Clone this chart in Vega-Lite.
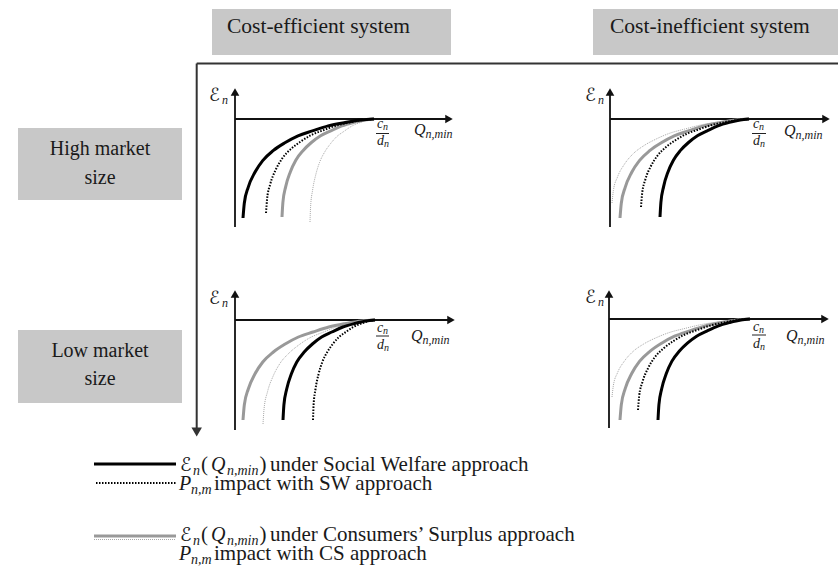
{
  "$schema": "https://vega.github.io/schema/vega-lite/v6.json",
  "width": 838,
  "height": 575,
  "autosize": {"type": "none"},
  "padding": 0,
  "background": "white",
  "config": {"view": {"stroke": null}},
  "datasets": {
    "boxes": [
      {"x": 212, "y": 9, "x2": 451, "y2": 55},
      {"x": 593, "y": 9, "x2": 838, "y2": 55},
      {"x": 18, "y": 128, "x2": 182, "y2": 200},
      {"x": 18, "y": 330, "x2": 182, "y2": 403}
    ],
    "rules": [
      {"k": "big", "x": 196.7, "y": 63.5, "x2": 838, "y2": 63.5},
      {"k": "big", "x": 196.7, "y": 63.5, "x2": 196.7, "y2": 430},
      {"k": "ax", "x": 235, "y": 92, "x2": 235, "y2": 227},
      {"k": "ax", "x": 235, "y": 119, "x2": 448, "y2": 119},
      {"k": "ax", "x": 610, "y": 92, "x2": 610, "y2": 227},
      {"k": "ax", "x": 610, "y": 119, "x2": 825, "y2": 119},
      {"k": "ax", "x": 235, "y": 294, "x2": 235, "y2": 430},
      {"k": "ax", "x": 235, "y": 320, "x2": 450, "y2": 320},
      {"k": "ax", "x": 609, "y": 294, "x2": 609, "y2": 428},
      {"k": "ax", "x": 609, "y": 319, "x2": 824, "y2": 319},
      {"k": "fr", "x": 376, "y": 133.5, "x2": 389, "y2": 133.5},
      {"k": "fr", "x": 752, "y": 133.5, "x2": 766, "y2": 133.5},
      {"k": "fr", "x": 376, "y": 336, "x2": 389, "y2": 336},
      {"k": "fr", "x": 752, "y": 335, "x2": 766, "y2": 335}
    ],
    "heads": [
      {"k": "ax", "sh": "triangle-up", "x": 235, "y": 92},
      {"k": "ax", "sh": "triangle-right", "x": 449, "y": 119},
      {"k": "ax", "sh": "triangle-up", "x": 610, "y": 92},
      {"k": "ax", "sh": "triangle-right", "x": 826, "y": 119},
      {"k": "ax", "sh": "triangle-up", "x": 235, "y": 294},
      {"k": "ax", "sh": "triangle-right", "x": 451, "y": 320},
      {"k": "ax", "sh": "triangle-up", "x": 609, "y": 294},
      {"k": "ax", "sh": "triangle-right", "x": 825, "y": 319},
      {"k": "big", "sh": "triangle-down", "x": 196.7, "y": 432}
    ],
    "curves": [
      {"c": "TLA", "s": "SW", "x": 243, "y": 218},
      {"c": "TLA", "s": "SW", "x": 244.3, "y": 203.2},
      {"c": "TLA", "s": "SW", "x": 248.2, "y": 187.3},
      {"c": "TLA", "s": "SW", "x": 254.8, "y": 172.5},
      {"c": "TLA", "s": "SW", "x": 262.7, "y": 160.6},
      {"c": "TLA", "s": "SW", "x": 273.1, "y": 150.7},
      {"c": "TLA", "s": "SW", "x": 284.9, "y": 142.8},
      {"c": "TLA", "s": "SW", "x": 298, "y": 135.8},
      {"c": "TLA", "s": "SW", "x": 312.4, "y": 130.9},
      {"c": "TLA", "s": "SW", "x": 328.2, "y": 125.9},
      {"c": "TLA", "s": "SW", "x": 345.2, "y": 122.5},
      {"c": "TLA", "s": "SW", "x": 360.9, "y": 120},
      {"c": "TLA", "s": "SW", "x": 374, "y": 119},
      {"c": "TLB", "s": "SWP", "x": 266, "y": 213},
      {"c": "TLB", "s": "SWP", "x": 267.1, "y": 198.9},
      {"c": "TLB", "s": "SWP", "x": 270.3, "y": 183.9},
      {"c": "TLB", "s": "SWP", "x": 275.7, "y": 169.8},
      {"c": "TLB", "s": "SWP", "x": 282.2, "y": 158.5},
      {"c": "TLB", "s": "SWP", "x": 290.8, "y": 149.1},
      {"c": "TLB", "s": "SWP", "x": 300.6, "y": 141.6},
      {"c": "TLB", "s": "SWP", "x": 311.4, "y": 135},
      {"c": "TLB", "s": "SWP", "x": 323.2, "y": 130.3},
      {"c": "TLB", "s": "SWP", "x": 336.2, "y": 125.6},
      {"c": "TLB", "s": "SWP", "x": 350.2, "y": 122.3},
      {"c": "TLB", "s": "SWP", "x": 363.2, "y": 119.9},
      {"c": "TLB", "s": "SWP", "x": 374, "y": 119},
      {"c": "TLC", "s": "CS", "x": 282, "y": 217},
      {"c": "TLC", "s": "CS", "x": 282.9, "y": 202.3},
      {"c": "TLC", "s": "CS", "x": 285.7, "y": 186.6},
      {"c": "TLC", "s": "CS", "x": 290.3, "y": 171.9},
      {"c": "TLC", "s": "CS", "x": 295.8, "y": 160.2},
      {"c": "TLC", "s": "CS", "x": 303.2, "y": 150.4},
      {"c": "TLC", "s": "CS", "x": 311.4, "y": 142.5},
      {"c": "TLC", "s": "CS", "x": 320.6, "y": 135.7},
      {"c": "TLC", "s": "CS", "x": 330.8, "y": 130.8},
      {"c": "TLC", "s": "CS", "x": 341.8, "y": 125.9},
      {"c": "TLC", "s": "CS", "x": 353.8, "y": 122.4},
      {"c": "TLC", "s": "CS", "x": 364.8, "y": 120},
      {"c": "TLC", "s": "CS", "x": 374, "y": 119},
      {"c": "TLD", "s": "CSP", "x": 310, "y": 222},
      {"c": "TLD", "s": "CSP", "x": 310.6, "y": 206.6},
      {"c": "TLD", "s": "CSP", "x": 312.6, "y": 190.1},
      {"c": "TLD", "s": "CSP", "x": 315.8, "y": 174.6},
      {"c": "TLD", "s": "CSP", "x": 319.6, "y": 162.3},
      {"c": "TLD", "s": "CSP", "x": 324.7, "y": 152},
      {"c": "TLD", "s": "CSP", "x": 330.5, "y": 143.7},
      {"c": "TLD", "s": "CSP", "x": 336.9, "y": 136.5},
      {"c": "TLD", "s": "CSP", "x": 343.9, "y": 131.4},
      {"c": "TLD", "s": "CSP", "x": 351.6, "y": 126.2},
      {"c": "TLD", "s": "CSP", "x": 359.9, "y": 122.6},
      {"c": "TLD", "s": "CSP", "x": 367.6, "y": 120},
      {"c": "TLD", "s": "CSP", "x": 374, "y": 119},
      {"c": "TRA", "s": "SW", "x": 660, "y": 217},
      {"c": "TRA", "s": "SW", "x": 660.9, "y": 202.3},
      {"c": "TRA", "s": "SW", "x": 663.6, "y": 186.6},
      {"c": "TRA", "s": "SW", "x": 668, "y": 171.9},
      {"c": "TRA", "s": "SW", "x": 673.4, "y": 160.2},
      {"c": "TRA", "s": "SW", "x": 680.5, "y": 150.4},
      {"c": "TRA", "s": "SW", "x": 688.5, "y": 142.5},
      {"c": "TRA", "s": "SW", "x": 697.4, "y": 135.7},
      {"c": "TRA", "s": "SW", "x": 707.2, "y": 130.8},
      {"c": "TRA", "s": "SW", "x": 717.9, "y": 125.9},
      {"c": "TRA", "s": "SW", "x": 729.4, "y": 122.4},
      {"c": "TRA", "s": "SW", "x": 740.1, "y": 120},
      {"c": "TRA", "s": "SW", "x": 749, "y": 119},
      {"c": "TRB", "s": "SWP", "x": 641, "y": 207},
      {"c": "TRB", "s": "SWP", "x": 642.1, "y": 193.8},
      {"c": "TRB", "s": "SWP", "x": 645.3, "y": 179.7},
      {"c": "TRB", "s": "SWP", "x": 650.7, "y": 166.5},
      {"c": "TRB", "s": "SWP", "x": 657.2, "y": 156},
      {"c": "TRB", "s": "SWP", "x": 665.8, "y": 147.2},
      {"c": "TRB", "s": "SWP", "x": 675.6, "y": 140.1},
      {"c": "TRB", "s": "SWP", "x": 686.4, "y": 134},
      {"c": "TRB", "s": "SWP", "x": 698.2, "y": 129.6},
      {"c": "TRB", "s": "SWP", "x": 711.2, "y": 125.2},
      {"c": "TRB", "s": "SWP", "x": 725.2, "y": 122.1},
      {"c": "TRB", "s": "SWP", "x": 738.2, "y": 119.9},
      {"c": "TRB", "s": "SWP", "x": 749, "y": 119},
      {"c": "TRC", "s": "CS", "x": 620, "y": 218},
      {"c": "TRC", "s": "CS", "x": 621.3, "y": 203.2},
      {"c": "TRC", "s": "CS", "x": 625.2, "y": 187.3},
      {"c": "TRC", "s": "CS", "x": 631.6, "y": 172.5},
      {"c": "TRC", "s": "CS", "x": 639.4, "y": 160.6},
      {"c": "TRC", "s": "CS", "x": 649.7, "y": 150.7},
      {"c": "TRC", "s": "CS", "x": 661.3, "y": 142.8},
      {"c": "TRC", "s": "CS", "x": 674.2, "y": 135.8},
      {"c": "TRC", "s": "CS", "x": 688.4, "y": 130.9},
      {"c": "TRC", "s": "CS", "x": 703.9, "y": 125.9},
      {"c": "TRC", "s": "CS", "x": 720.6, "y": 122.5},
      {"c": "TRC", "s": "CS", "x": 736.1, "y": 120},
      {"c": "TRC", "s": "CS", "x": 749, "y": 119},
      {"c": "TRD", "s": "CSP", "x": 612, "y": 203},
      {"c": "TRD", "s": "CSP", "x": 613.4, "y": 190.4},
      {"c": "TRD", "s": "CSP", "x": 617.5, "y": 177},
      {"c": "TRD", "s": "CSP", "x": 624.3, "y": 164.4},
      {"c": "TRD", "s": "CSP", "x": 632.6, "y": 154.3},
      {"c": "TRD", "s": "CSP", "x": 643.5, "y": 145.9},
      {"c": "TRD", "s": "CSP", "x": 655.8, "y": 139.2},
      {"c": "TRD", "s": "CSP", "x": 669.5, "y": 133.3},
      {"c": "TRD", "s": "CSP", "x": 684.6, "y": 129.1},
      {"c": "TRD", "s": "CSP", "x": 701.1, "y": 124.9},
      {"c": "TRD", "s": "CSP", "x": 718.9, "y": 121.9},
      {"c": "TRD", "s": "CSP", "x": 735.3, "y": 119.8},
      {"c": "TRD", "s": "CSP", "x": 749, "y": 119},
      {"c": "BLC", "s": "CS", "x": 243, "y": 420},
      {"c": "BLC", "s": "CS", "x": 244.3, "y": 405},
      {"c": "BLC", "s": "CS", "x": 248.3, "y": 389},
      {"c": "BLC", "s": "CS", "x": 254.9, "y": 374},
      {"c": "BLC", "s": "CS", "x": 262.8, "y": 362},
      {"c": "BLC", "s": "CS", "x": 273.4, "y": 352},
      {"c": "BLC", "s": "CS", "x": 285.2, "y": 344},
      {"c": "BLC", "s": "CS", "x": 298.4, "y": 337},
      {"c": "BLC", "s": "CS", "x": 313, "y": 332},
      {"c": "BLC", "s": "CS", "x": 328.8, "y": 327},
      {"c": "BLC", "s": "CS", "x": 346, "y": 323.5},
      {"c": "BLC", "s": "CS", "x": 361.8, "y": 321},
      {"c": "BLC", "s": "CS", "x": 375, "y": 320},
      {"c": "BLD", "s": "CSP", "x": 263, "y": 424},
      {"c": "BLD", "s": "CSP", "x": 264.1, "y": 408.4},
      {"c": "BLD", "s": "CSP", "x": 267.5, "y": 391.8},
      {"c": "BLD", "s": "CSP", "x": 273.1, "y": 376.2},
      {"c": "BLD", "s": "CSP", "x": 279.8, "y": 363.7},
      {"c": "BLD", "s": "CSP", "x": 288.8, "y": 353.3},
      {"c": "BLD", "s": "CSP", "x": 298.8, "y": 345},
      {"c": "BLD", "s": "CSP", "x": 310, "y": 337.7},
      {"c": "BLD", "s": "CSP", "x": 322.4, "y": 332.5},
      {"c": "BLD", "s": "CSP", "x": 335.8, "y": 327.3},
      {"c": "BLD", "s": "CSP", "x": 350.4, "y": 323.6},
      {"c": "BLD", "s": "CSP", "x": 363.8, "y": 321},
      {"c": "BLD", "s": "CSP", "x": 375, "y": 320},
      {"c": "BLA", "s": "SW", "x": 283, "y": 420},
      {"c": "BLA", "s": "SW", "x": 283.9, "y": 405},
      {"c": "BLA", "s": "SW", "x": 286.7, "y": 389},
      {"c": "BLA", "s": "SW", "x": 291.3, "y": 374},
      {"c": "BLA", "s": "SW", "x": 296.8, "y": 362},
      {"c": "BLA", "s": "SW", "x": 304.2, "y": 352},
      {"c": "BLA", "s": "SW", "x": 312.4, "y": 344},
      {"c": "BLA", "s": "SW", "x": 321.6, "y": 337},
      {"c": "BLA", "s": "SW", "x": 331.8, "y": 332},
      {"c": "BLA", "s": "SW", "x": 342.8, "y": 327},
      {"c": "BLA", "s": "SW", "x": 354.8, "y": 323.5},
      {"c": "BLA", "s": "SW", "x": 365.8, "y": 321},
      {"c": "BLA", "s": "SW", "x": 375, "y": 320},
      {"c": "BLB", "s": "SWP", "x": 313, "y": 420},
      {"c": "BLB", "s": "SWP", "x": 313.6, "y": 405},
      {"c": "BLB", "s": "SWP", "x": 315.5, "y": 389},
      {"c": "BLB", "s": "SWP", "x": 318.6, "y": 374},
      {"c": "BLB", "s": "SWP", "x": 322.3, "y": 362},
      {"c": "BLB", "s": "SWP", "x": 327.3, "y": 352},
      {"c": "BLB", "s": "SWP", "x": 332.8, "y": 344},
      {"c": "BLB", "s": "SWP", "x": 339, "y": 337},
      {"c": "BLB", "s": "SWP", "x": 345.9, "y": 332},
      {"c": "BLB", "s": "SWP", "x": 353.3, "y": 327},
      {"c": "BLB", "s": "SWP", "x": 361.4, "y": 323.5},
      {"c": "BLB", "s": "SWP", "x": 368.8, "y": 321},
      {"c": "BLB", "s": "SWP", "x": 375, "y": 320},
      {"c": "BRA", "s": "SW", "x": 658, "y": 420},
      {"c": "BRA", "s": "SW", "x": 658.9, "y": 404.9},
      {"c": "BRA", "s": "SW", "x": 661.7, "y": 388.7},
      {"c": "BRA", "s": "SW", "x": 666.3, "y": 373.5},
      {"c": "BRA", "s": "SW", "x": 671.8, "y": 361.4},
      {"c": "BRA", "s": "SW", "x": 679.2, "y": 351.3},
      {"c": "BRA", "s": "SW", "x": 687.4, "y": 343.2},
      {"c": "BRA", "s": "SW", "x": 696.6, "y": 336.2},
      {"c": "BRA", "s": "SW", "x": 706.8, "y": 331.1},
      {"c": "BRA", "s": "SW", "x": 717.8, "y": 326.1},
      {"c": "BRA", "s": "SW", "x": 729.8, "y": 322.5},
      {"c": "BRA", "s": "SW", "x": 740.8, "y": 320},
      {"c": "BRA", "s": "SW", "x": 750, "y": 319},
      {"c": "BRB", "s": "SWP", "x": 638, "y": 410},
      {"c": "BRB", "s": "SWP", "x": 639.1, "y": 396.4},
      {"c": "BRB", "s": "SWP", "x": 642.5, "y": 381.8},
      {"c": "BRB", "s": "SWP", "x": 648.1, "y": 368.1},
      {"c": "BRB", "s": "SWP", "x": 654.8, "y": 357.2},
      {"c": "BRB", "s": "SWP", "x": 663.8, "y": 348.1},
      {"c": "BRB", "s": "SWP", "x": 673.8, "y": 340.8},
      {"c": "BRB", "s": "SWP", "x": 685, "y": 334.5},
      {"c": "BRB", "s": "SWP", "x": 697.4, "y": 329.9},
      {"c": "BRB", "s": "SWP", "x": 710.8, "y": 325.4},
      {"c": "BRB", "s": "SWP", "x": 725.4, "y": 322.2},
      {"c": "BRB", "s": "SWP", "x": 738.8, "y": 319.9},
      {"c": "BRB", "s": "SWP", "x": 750, "y": 319},
      {"c": "BRC", "s": "CS", "x": 620, "y": 420},
      {"c": "BRC", "s": "CS", "x": 621.3, "y": 404.9},
      {"c": "BRC", "s": "CS", "x": 625.2, "y": 388.7},
      {"c": "BRC", "s": "CS", "x": 631.7, "y": 373.5},
      {"c": "BRC", "s": "CS", "x": 639.5, "y": 361.4},
      {"c": "BRC", "s": "CS", "x": 649.9, "y": 351.3},
      {"c": "BRC", "s": "CS", "x": 661.6, "y": 343.2},
      {"c": "BRC", "s": "CS", "x": 674.6, "y": 336.2},
      {"c": "BRC", "s": "CS", "x": 688.9, "y": 331.1},
      {"c": "BRC", "s": "CS", "x": 704.5, "y": 326.1},
      {"c": "BRC", "s": "CS", "x": 721.4, "y": 322.5},
      {"c": "BRC", "s": "CS", "x": 737, "y": 320},
      {"c": "BRC", "s": "CS", "x": 750, "y": 319},
      {"c": "BRD", "s": "CSP", "x": 612, "y": 397},
      {"c": "BRD", "s": "CSP", "x": 613.4, "y": 385.3},
      {"c": "BRD", "s": "CSP", "x": 617.5, "y": 372.8},
      {"c": "BRD", "s": "CSP", "x": 624.4, "y": 361.1},
      {"c": "BRD", "s": "CSP", "x": 632.7, "y": 351.8},
      {"c": "BRD", "s": "CSP", "x": 643.7, "y": 344},
      {"c": "BRD", "s": "CSP", "x": 656.2, "y": 337.7},
      {"c": "BRD", "s": "CSP", "x": 670, "y": 332.3},
      {"c": "BRD", "s": "CSP", "x": 685.1, "y": 328.4},
      {"c": "BRD", "s": "CSP", "x": 701.7, "y": 324.5},
      {"c": "BRD", "s": "CSP", "x": 719.6, "y": 321.7},
      {"c": "BRD", "s": "CSP", "x": 736.2, "y": 319.8},
      {"c": "BRD", "s": "CSP", "x": 750, "y": 319},
      {"c": "L1", "s": "SW", "x": 94, "y": 464},
      {"c": "L1", "s": "SW", "x": 176, "y": 464},
      {"c": "L2", "s": "SWP", "x": 96, "y": 483},
      {"c": "L2", "s": "SWP", "x": 176, "y": 483},
      {"c": "L3", "s": "CS", "x": 94, "y": 536},
      {"c": "L3", "s": "CS", "x": 176, "y": 536},
      {"c": "L4", "s": "CSP", "x": 94, "y": 539.5},
      {"c": "L4", "s": "CSP", "x": 176, "y": 539.5}
    ],
    "texts": [
      {"r": "hdr", "x": 227, "y": 33, "t": "Cost-efficient system"},
      {"r": "hdr", "x": 610, "y": 33, "t": "Cost-inefficient system"},
      {"r": "row", "x": 100, "y": 155, "t": "High market"},
      {"r": "row", "x": 100, "y": 184, "t": "size"},
      {"r": "row", "x": 100, "y": 357, "t": "Low market"},
      {"r": "row", "x": 100, "y": 385, "t": "size"},
      {"r": "scrP", "x": 209, "y": 101, "t": "ℰ"},
      {"r": "scrP", "x": 585, "y": 101, "t": "ℰ"},
      {"r": "scrP", "x": 209, "y": 304, "t": "ℰ"},
      {"r": "scrP", "x": 585, "y": 303, "t": "ℰ"},
      {"r": "psub", "x": 222, "y": 104, "t": "n"},
      {"r": "psub", "x": 598, "y": 104, "t": "n"},
      {"r": "psub", "x": 222, "y": 307, "t": "n"},
      {"r": "psub", "x": 598, "y": 306, "t": "n"},
      {"r": "pmi", "x": 414, "y": 135, "t": "Q"},
      {"r": "pmi", "x": 784, "y": 136, "t": "Q"},
      {"r": "pmi", "x": 411, "y": 341, "t": "Q"},
      {"r": "pmi", "x": 786, "y": 341, "t": "Q"},
      {"r": "psub", "x": 425.5, "y": 138, "t": "n,min"},
      {"r": "psub", "x": 795.5, "y": 139, "t": "n,min"},
      {"r": "psub", "x": 422.5, "y": 344, "t": "n,min"},
      {"r": "psub", "x": 797.5, "y": 344, "t": "n,min"},
      {"r": "pfr", "x": 377, "y": 128, "t": "c"},
      {"r": "pfr", "x": 753, "y": 128, "t": "c"},
      {"r": "pfr", "x": 377, "y": 332, "t": "c"},
      {"r": "pfr", "x": 753, "y": 331, "t": "c"},
      {"r": "pfr", "x": 377, "y": 145, "t": "d"},
      {"r": "pfr", "x": 753, "y": 145, "t": "d"},
      {"r": "pfr", "x": 377, "y": 349, "t": "d"},
      {"r": "pfr", "x": 753, "y": 348, "t": "d"},
      {"r": "pfs", "x": 383, "y": 130, "t": "n"},
      {"r": "pfs", "x": 759, "y": 130, "t": "n"},
      {"r": "pfs", "x": 383, "y": 334, "t": "n"},
      {"r": "pfs", "x": 759, "y": 333, "t": "n"},
      {"r": "pfs", "x": 384, "y": 147, "t": "n"},
      {"r": "pfs", "x": 760, "y": 147, "t": "n"},
      {"r": "pfs", "x": 384, "y": 351, "t": "n"},
      {"r": "pfs", "x": 760, "y": 350, "t": "n"},
      {"r": "scrL", "x": 180, "y": 471, "t": "ℰ"},
      {"r": "scrL", "x": 180, "y": 541, "t": "ℰ"},
      {"r": "legs", "x": 193, "y": 475, "t": "n"},
      {"r": "legs", "x": 193, "y": 545, "t": "n"},
      {"r": "leg", "x": 201, "y": 471, "t": "("},
      {"r": "leg", "x": 201, "y": 541, "t": "("},
      {"r": "legi", "x": 211, "y": 471, "t": "Q"},
      {"r": "legi", "x": 211, "y": 541, "t": "Q"},
      {"r": "legs", "x": 227, "y": 475, "t": "n,min"},
      {"r": "legs", "x": 227, "y": 545, "t": "n,min"},
      {"r": "leg", "x": 259.5, "y": 471, "t": ")"},
      {"r": "leg", "x": 259.5, "y": 541, "t": ")"},
      {"r": "leg", "x": 270, "y": 471, "t": "under Social Welfare approach"},
      {"r": "leg", "x": 270, "y": 541, "t": "under Consumers’ Surplus approach"},
      {"r": "legi", "x": 179, "y": 490, "t": "P"},
      {"r": "legi", "x": 179, "y": 560, "t": "P"},
      {"r": "legs", "x": 191, "y": 494, "t": "n,m"},
      {"r": "legs", "x": 191, "y": 564, "t": "n,m"},
      {"r": "leg", "x": 214, "y": 490, "t": "impact with SW approach"},
      {"r": "leg", "x": 214, "y": 560, "t": "impact with CS approach"}
    ]
  },
  "encoding": {
    "x": {"field": "x", "type": "quantitative", "scale": {"domain": [0, 838], "nice": false, "zero": false}, "axis": null},
    "y": {"field": "y", "type": "quantitative", "scale": {"domain": [0, 575], "reverse": true, "nice": false, "zero": false}, "axis": null}
  },
  "layer": [
    {"data": {"name": "boxes"}, "mark": {"type": "rect", "fill": "#c8c8c8"}, "encoding": {"x2": {"field": "x2"}, "y2": {"field": "y2"}}},
    {"data": {"name": "rules"}, "transform": [{"filter": "datum.k === 'big'"}], "mark": {"type": "rule", "color": "#333333", "strokeWidth": 2}, "encoding": {"x2": {"field": "x2"}, "y2": {"field": "y2"}}},
    {"data": {"name": "rules"}, "transform": [{"filter": "datum.k === 'ax'"}], "mark": {"type": "rule", "color": "#111111", "strokeWidth": 1.8}, "encoding": {"x2": {"field": "x2"}, "y2": {"field": "y2"}}},
    {"data": {"name": "rules"}, "transform": [{"filter": "datum.k === 'fr'"}], "mark": {"type": "rule", "color": "#222222", "strokeWidth": 1}, "encoding": {"x2": {"field": "x2"}, "y2": {"field": "y2"}}},
    {"data": {"name": "curves"}, "transform": [{"filter": "datum.s === 'CSP'"}], "mark": {"type": "line", "color": "#a8a8a8", "strokeWidth": 1, "strokeDash": [1, 1], "interpolate": "monotone"}, "encoding": {"detail": {"field": "c"}}},
    {"data": {"name": "curves"}, "transform": [{"filter": "datum.s === 'CS'"}], "mark": {"type": "line", "color": "#999999", "strokeWidth": 3, "interpolate": "monotone"}, "encoding": {"detail": {"field": "c"}}},
    {"data": {"name": "curves"}, "transform": [{"filter": "datum.s === 'SWP'"}], "mark": {"type": "line", "color": "#000000", "strokeWidth": 2, "strokeDash": [1.5, 1.5], "interpolate": "monotone"}, "encoding": {"detail": {"field": "c"}}},
    {"data": {"name": "curves"}, "transform": [{"filter": "datum.s === 'SW'"}], "mark": {"type": "line", "color": "#000000", "strokeWidth": 3, "interpolate": "monotone"}, "encoding": {"detail": {"field": "c"}}},
    {"data": {"name": "heads"}, "transform": [{"filter": "datum.k === 'ax'"}], "mark": {"type": "point", "filled": true, "color": "#111111", "opacity": 1, "size": 75}, "encoding": {"shape": {"field": "sh", "type": "nominal", "scale": null}}},
    {"data": {"name": "heads"}, "transform": [{"filter": "datum.k === 'big'"}], "mark": {"type": "point", "filled": true, "color": "#333333", "opacity": 1, "size": 110}, "encoding": {"shape": {"field": "sh", "type": "nominal", "scale": null}}},
    {"data": {"name": "texts"}, "transform": [{"filter": "datum.r === 'hdr'"}], "mark": {"type": "text", "font": "Liberation Serif", "fontSize": 21.5, "align": "left", "baseline": "alphabetic", "color": "#1a1a1a"}, "encoding": {"text": {"field": "t"}}},
    {"data": {"name": "texts"}, "transform": [{"filter": "datum.r === 'row'"}], "mark": {"type": "text", "font": "Liberation Serif", "fontSize": 20, "align": "center", "baseline": "alphabetic", "color": "#1a1a1a"}, "encoding": {"text": {"field": "t"}}},
    {"data": {"name": "texts"}, "transform": [{"filter": "datum.r === 'leg'"}], "mark": {"type": "text", "font": "Liberation Serif", "fontSize": 21, "align": "left", "baseline": "alphabetic", "color": "#1a1a1a"}, "encoding": {"text": {"field": "t"}}},
    {"data": {"name": "texts"}, "transform": [{"filter": "datum.r === 'legi'"}], "mark": {"type": "text", "font": "Liberation Serif", "fontStyle": "italic", "fontSize": 20, "align": "left", "baseline": "alphabetic", "color": "#1a1a1a"}, "encoding": {"text": {"field": "t"}}},
    {"data": {"name": "texts"}, "transform": [{"filter": "datum.r === 'legs'"}], "mark": {"type": "text", "font": "Liberation Serif", "fontStyle": "italic", "fontSize": 14, "align": "left", "baseline": "alphabetic", "color": "#1a1a1a"}, "encoding": {"text": {"field": "t"}}},
    {"data": {"name": "texts"}, "transform": [{"filter": "datum.r === 'scrL'"}], "mark": {"type": "text", "font": "DejaVu Sans", "fontSize": 19, "align": "left", "baseline": "alphabetic", "color": "#1a1a1a"}, "encoding": {"text": {"field": "t"}}},
    {"data": {"name": "texts"}, "transform": [{"filter": "datum.r === 'scrP'"}], "mark": {"type": "text", "font": "DejaVu Sans", "fontSize": 18, "align": "left", "baseline": "alphabetic", "color": "#1a1a1a"}, "encoding": {"text": {"field": "t"}}},
    {"data": {"name": "texts"}, "transform": [{"filter": "datum.r === 'pmi'"}], "mark": {"type": "text", "font": "Liberation Serif", "fontStyle": "italic", "fontSize": 16, "align": "left", "baseline": "alphabetic", "color": "#1a1a1a"}, "encoding": {"text": {"field": "t"}}},
    {"data": {"name": "texts"}, "transform": [{"filter": "datum.r === 'psub'"}], "mark": {"type": "text", "font": "Liberation Serif", "fontStyle": "italic", "fontSize": 12, "align": "left", "baseline": "alphabetic", "color": "#1a1a1a"}, "encoding": {"text": {"field": "t"}}},
    {"data": {"name": "texts"}, "transform": [{"filter": "datum.r === 'pfr'"}], "mark": {"type": "text", "font": "Liberation Serif", "fontStyle": "italic", "fontSize": 14, "align": "left", "baseline": "alphabetic", "color": "#1a1a1a"}, "encoding": {"text": {"field": "t"}}},
    {"data": {"name": "texts"}, "transform": [{"filter": "datum.r === 'pfs'"}], "mark": {"type": "text", "font": "Liberation Serif", "fontStyle": "italic", "fontSize": 10, "align": "left", "baseline": "alphabetic", "color": "#1a1a1a"}, "encoding": {"text": {"field": "t"}}}
  ]
}
